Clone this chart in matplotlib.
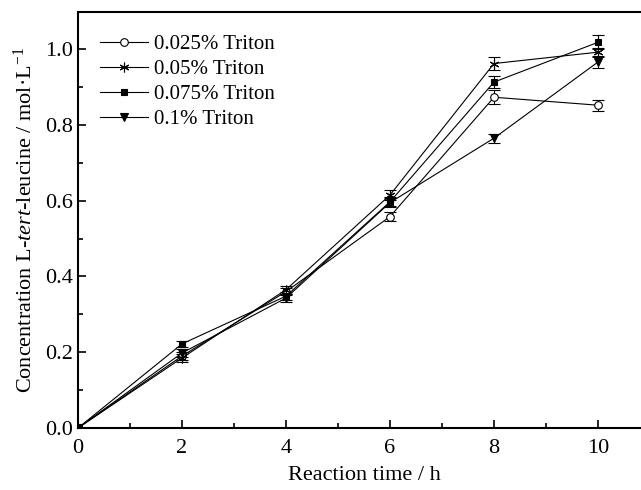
import numpy as np
import matplotlib
matplotlib.use("Agg")
import matplotlib.pyplot as plt
from matplotlib.ticker import MultipleLocator
from matplotlib.lines import Line2D

plt.rcParams['font.family'] = ['Liberation Serif', 'DejaVu Serif']
plt.rcParams['mathtext.fontset'] = 'custom'
plt.rcParams['mathtext.rm'] = 'Liberation Serif'
plt.rcParams['mathtext.it'] = 'Liberation Serif:italic'

time_h = [0, 2, 4, 6, 8, 10]
labels = ['0.025% Triton', '0.05% Triton', '0.075% Triton', '0.1% Triton']
c_0025 = [0.0, 0.190, 0.360, 0.558, 0.873, 0.852]
c_005 = [0.0, 0.185, 0.365, 0.615, 0.962, 0.992]
c_0075 = [0.0, 0.222, 0.348, 0.597, 0.913, 1.018]
c_01 = [0.0, 0.198, 0.343, 0.595, 0.765, 0.966]
err_0025 = [0, 0.010, 0.010, 0.012, 0.018, 0.015]
err_005 = [0, 0.010, 0.010, 0.012, 0.018, 0.012]
err_0075 = [0, 0.008, 0.010, 0.012, 0.015, 0.018]
err_01 = [0, 0.010, 0.010, 0.012, 0.012, 0.015]

# asterisk marker: 6 spokes
star = (6, 2, 0)
series = [
    (c_0025, err_0025, 'o', 'white', 5.5),
    (c_005, err_005, star, 'black', 7),
    (c_0075, err_0075, 's', 'black', 4.5),
    (c_01, err_01, 'v', 'black', 5.5),
]

fig = plt.figure(figsize=(6.41, 4.9), dpi=100)
ax = fig.add_axes([78 / 641, 62 / 490, 572 / 641, 416 / 490])

handles = []
for (y, e, m, fc, ms), lab in zip(series, labels):
    ax.errorbar(time_h, y, yerr=e, color='black', lw=0.8, marker=m, ms=ms,
                mfc=fc, mec='black', mew=0.8, capsize=4, elinewidth=0.8,
                capthick=0.8)
    handles.append(Line2D([], [], color='black', lw=0.8, marker=m, ms=ms,
                          mfc=fc, mec='black', mew=0.8))

ax.set_xlim(0, 11)
ax.set_ylim(0, 1.098)
ax.xaxis.set_major_locator(MultipleLocator(2))
ax.xaxis.set_minor_locator(MultipleLocator(1))
ax.yaxis.set_major_locator(MultipleLocator(0.2))
ax.yaxis.set_minor_locator(MultipleLocator(0.1))
ax.yaxis.set_major_formatter(matplotlib.ticker.FormatStrFormatter('%.1f'))
ax.tick_params(which='both', direction='in', labelsize=16, width=1.2)
ax.tick_params(which='major', length=6)
ax.tick_params(which='minor', length=3.5)
ax.tick_params(axis='x', pad=8)
for s in ax.spines.values():
    s.set_linewidth(1.5)
ax.spines['right'].set_visible(False)

ax.set_xlabel('Reaction time / h', fontsize=16, labelpad=6)
ax.set_ylabel(r'Concentration L-$\it{tert}$-leucine / mol·L$^{-1}$', fontsize=16,
              labelpad=6)

ax.legend(handles, labels, loc='upper left', frameon=False, fontsize=15,
          handlelength=2.3, labelspacing=0.25, handletextpad=0.3,
          borderaxespad=0, bbox_to_anchor=(0.024, 0.965))

fig.savefig('out.png', dpi=100)
